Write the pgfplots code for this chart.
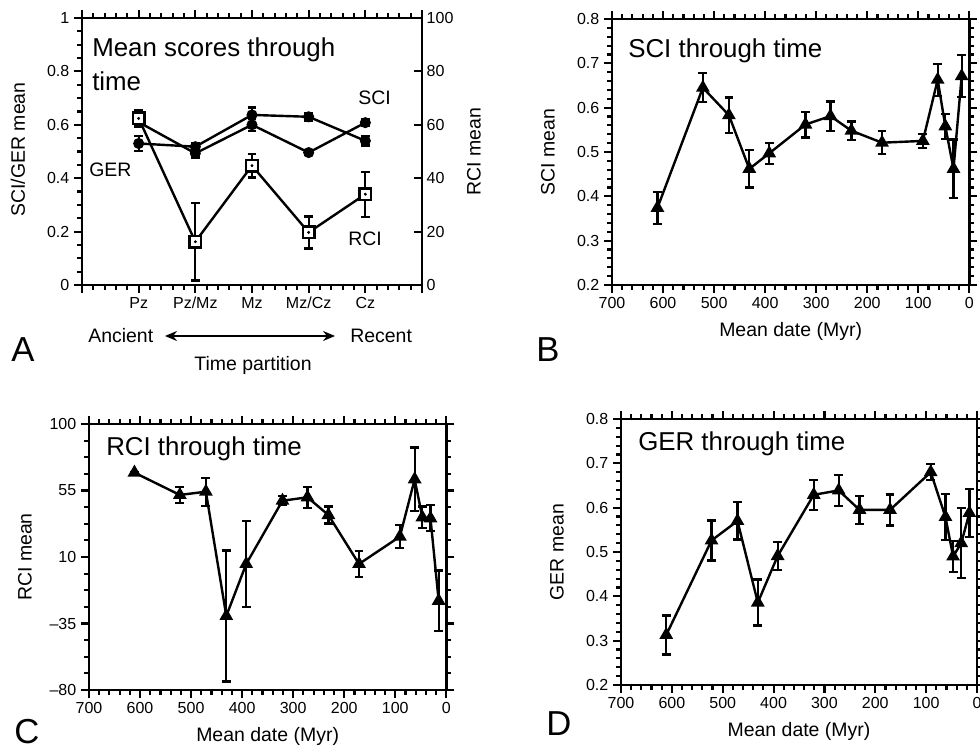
\documentclass[border=0pt]{standalone}
\usepackage{fontspec}
\setmainfont{Liberation Sans}
\usepackage{pgfplots}
\usepackage{pgfplotstable}
\pgfplotsset{compat=1.18}
\usetikzlibrary{arrows.meta}

\newcommand\fTick{\fontsize{12}{14}\selectfont}
\newcommand\fLab{\fontsize{14.6}{17}\selectfont}
\newcommand\fTitle{\fontsize{19.4}{23}\selectfont}
\newcommand\fLetter{\fontsize{26}{30}\selectfont}

% panel A: means per time partition (1=Pz ... 5=Cz)
\pgfplotstableread{
x y e
1 0.610 0.015
2 0.493 0.015
3 0.600 0.022
4 0.496 0.010
5 0.608 0.012
}\sciA
\pgfplotstableread{
x y e
1 0.530 0.028
2 0.518 0.014
3 0.637 0.028
4 0.630 0.014
5 0.540 0.018
}\gerA
\pgfplotstableread{
x y e
1 62.4 3.2
2 16.2 14.5
3 44.7 4.4
4 19.7 6.0
5 34.0 8.4
}\rciA

% panels B-D: mean date (Myr), mean, error
\pgfplotstableread{
t y e
611 0.374 0.036
522 0.645 0.033
471 0.583 0.040
431 0.462 0.042
392 0.497 0.024
321 0.562 0.029
272 0.581 0.033
231 0.548 0.021
171 0.521 0.026
91 0.525 0.016
62 0.663 0.036
47 0.558 0.028
31 0.462 0.066
15 0.671 0.047
}\sciT
\pgfplotstableread{
t y e
611 67.1 0
522 52.0 5.6
471 54.2 9.5
431 -29.9 44.3
392 5.3 29.2
321 48.1 3.0
272 50.4 7.2
231 38.4 5.7
171 5.3 8.7
91 23.8 7.9
62 62.6 21.5
47 36.8 7.3
31 36.2 8.8
15 -19.6 20.5
}\rciT
\pgfplotstableread{
t y e
611 0.313 0.044
522 0.526 0.045
471 0.570 0.042
431 0.386 0.052
392 0.491 0.031
321 0.629 0.034
272 0.639 0.035
231 0.595 0.032
171 0.595 0.035
91 0.680 0.018
62 0.579 0.052
47 0.490 0.035
31 0.520 0.079
15 0.588 0.054
}\gerT

\pgfplotsset{
  panel/.style={
    scale only axis, anchor=south west,
    axis line style={line width=2.1pt},
    tick style={line width=1.6pt,black},
    major tick length=6pt, minor tick length=3.5pt,
    tick align=outside,
    tick label style={font=\fTick},
    /pgf/number format/assume math mode=true,
    every axis y label/.style={at={(axis description cs:0,0.5)},xshift=-48pt,rotate=90,anchor=center,font=\fLab},
    every axis x label/.style={at={(axis description cs:0.5,0)},yshift=-35pt,anchor=center,font=\fLab},
  },
  timepanel/.style={
    panel, width=268pt, height=199.5pt,
    x dir=reverse, xmin=0, xmax=700, xtick={0,100,...,700}, minor x tick num=4,
    xlabel={Mean date (Myr)},
  },
  eb/.style={error bars/.cd, y dir=both, y explicit,
    error bar style={line width=1.7pt},
    error mark options={rotate=90, line width=1.7pt, mark size=3.3pt}},
}

\begin{document}
\begin{tikzpicture}
\useasboundingbox (0,0) rectangle (735pt,563.25pt);

% ---- A ----
\begin{axis}[panel, at={(61.5pt,349.5pt)}, width=255pt, height=200.25pt,
  xmin=0, xmax=6, ymin=0, ymax=1,
  xtick={0,...,6}, xticklabels={,Pz,Pz/Mz,Mz,Mz/Cz,Cz,}, minor x tick num=4,
  xticklabel style={text height=1.5ex, text depth=0.3ex},
  ytick={0,0.2,...,1}, minor y tick num=3, ytick pos=left,
  ylabel={SCI/GER mean},
  every axis y label/.append style={xshift=1.5pt},
]
\addplot[black, line width=1.8pt, mark=*, mark size=3.2pt, eb] table[x=x,y=y,y error=e] {\sciA};
\addplot[black, line width=1.8pt, mark=*, mark size=3.2pt, eb] table[x=x,y=y,y error=e] {\gerA};
\end{axis}
\begin{axis}[panel, at={(61.5pt,349.5pt)}, width=255pt, height=200.25pt,
  xmin=0, xmax=6, ymin=0, ymax=100,
  axis x line=none, axis y line*=right, tick align=inside,
  ytick={0,20,...,100},
  ylabel={RCI mean},
  every axis y label/.style={at={(axis description cs:1,0.5)},xshift=39pt,rotate=90,anchor=center,font=\fLab},
]
\addplot[black, line width=1.8pt, mark=square*, mark size=4.3pt, mark options={fill=white, line width=1.8pt}, eb]
  table[x=x,y=y,y error=e] {\rciA};
\addplot[only marks, mark=*, mark size=0.9pt, black] table[x=x,y=y] {\rciA};
\end{axis}

% ---- B ----
\begin{axis}[timepanel, at={(459pt,349.5pt)},
  ymin=0.2, ymax=0.8, ytick={0.2,0.3,...,0.8}, minor y tick num=4,
  ylabel={SCI mean}]
\addplot[black, line width=1.8pt, mark=triangle*, mark size=4.2pt, eb] table[x=t,y=y,y error=e] {\sciT};
\end{axis}

% ---- C ----
\begin{axis}[timepanel, at={(66.75pt,45.75pt)},
  ymin=-80, ymax=100, ytick={-80,-35,10,55,100},
  yticklabels={\textendash80,\textendash35,10,55,100}, minor y tick num=3,
  ylabel={RCI mean}]
\addplot[black, line width=1.8pt, mark=triangle*, mark size=4.2pt, eb] table[x=t,y=y,y error=e] {\rciT};
\end{axis}

% ---- D ----
\begin{axis}[timepanel, at={(465.75pt,49.5pt)}, width=267pt,
  ymin=0.2, ymax=0.8, ytick={0.2,0.3,...,0.8}, minor y tick num=4,
  ylabel={GER mean}]
\addplot[black, line width=1.8pt, mark=triangle*, mark size=4.2pt, eb] table[x=t,y=y,y error=e] {\gerT};
\end{axis}

% text in pixel coordinates of the reference
\begin{scope}[x=0.75pt,y=-0.75pt,shift={(0pt,563.25pt)}]
\node[anchor=base west,inner sep=0pt,font=\fTitle] at (92,57) {Mean scores through};
\node[anchor=base west,inner sep=0pt,font=\fTitle] at (92,91) {time};
\node[anchor=base west,inner sep=0pt,font=\fLab] at (89,177) {GER};
\node[anchor=base west,inner sep=0pt,font=\fLab] at (358,105) {SCI};
\node[anchor=base west,inner sep=0pt,font=\fLab] at (348,245) {RCI};
\node[anchor=base west,inner sep=0pt,font=\fLab] at (88,342) {Ancient};
\node[anchor=base west,inner sep=0pt,font=\fLab] at (350,342) {Recent};
\draw[line width=1.4pt,{Stealth[length=9pt,width=7.5pt]}-{Stealth[length=9pt,width=7.5pt]}] (165,336) -- (335,336);
\node[anchor=base,inner sep=0pt,font=\fLab] at (253,370) {Time partition};
\node[anchor=base west,inner sep=0pt,font=\fTitle] at (628,58) {SCI through time};
\node[anchor=base west,inner sep=0pt,font=\fTitle] at (106,455) {RCI through time};
\node[anchor=base west,inner sep=0pt,font=\fTitle] at (638,450) {GER through time};
\node[font=\fLetter,inner sep=0pt] at (23,350) {A};
\node[font=\fLetter,inner sep=0pt] at (548,350) {B};
\node[font=\fLetter,inner sep=0pt] at (27,732) {C};
\node[font=\fLetter,inner sep=0pt] at (559,724) {D};
\end{scope}
\end{tikzpicture}
\end{document}
